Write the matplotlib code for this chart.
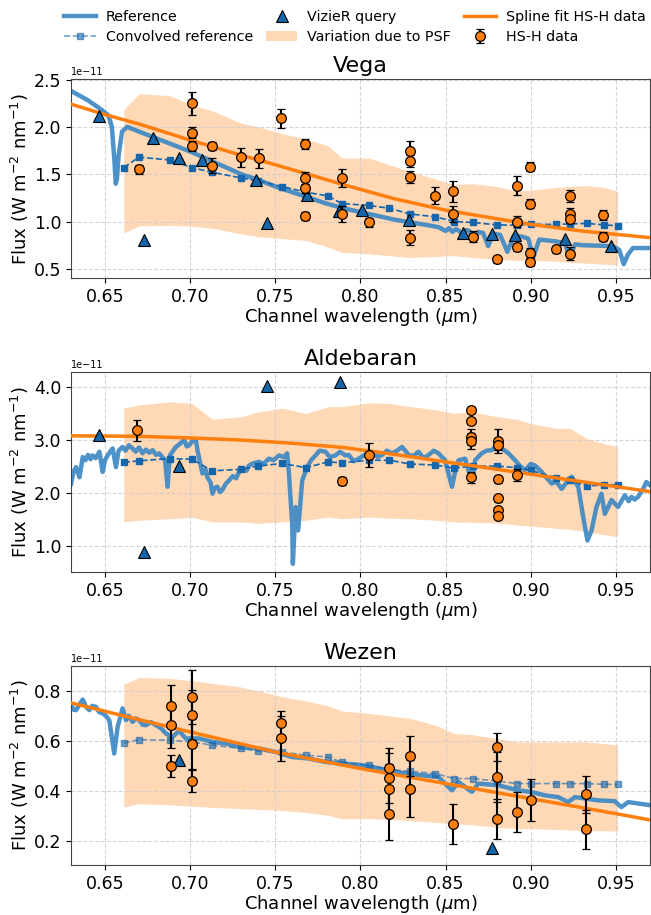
import numpy as np
import matplotlib
matplotlib.use("Agg")
import matplotlib.pyplot as plt
from matplotlib.ticker import MultipleLocator, FormatStrFormatter, ScalarFormatter

# all fluxes below are in units of 1e-11 W m^-2 nm^-1
scale = 1e-11

# channel wavelengths (convolved reference / PSF band)
chan_wl = [0.661, 0.670, 0.688, 0.701, 0.713, 0.730, 0.740, 0.754, 0.768, 0.781,
           0.789, 0.805, 0.817, 0.829, 0.844, 0.855, 0.866, 0.880, 0.892, 0.900,
           0.915, 0.923, 0.933, 0.943, 0.951]

# ---------------- Vega ----------------
vega_ref_pts = [
    (0.630, 2.38), (0.640, 2.28), (0.648, 2.18), (0.652, 2.12), (0.654, 2.00),
    (0.6555, 1.65), (0.6563, 1.40), (0.657, 1.45), (0.658, 1.70), (0.660, 1.95),
    (0.663, 2.00), (0.670, 1.95), (0.680, 1.88), (0.690, 1.81), (0.700, 1.74),
    (0.710, 1.66), (0.720, 1.58), (0.730, 1.50), (0.740, 1.44), (0.750, 1.37),
    (0.760, 1.31), (0.770, 1.25), (0.780, 1.19), (0.790, 1.14), (0.800, 1.10),
    (0.810, 1.06), (0.820, 1.02), (0.830, 0.99), (0.840, 0.96), (0.846, 0.94),
    (0.850, 0.90), (0.852, 0.93), (0.854, 0.89), (0.856, 0.92), (0.858, 0.90),
    (0.860, 0.86), (0.862, 0.91), (0.864, 0.90), (0.8665, 0.79), (0.869, 0.89),
    (0.872, 0.88), (0.875, 0.74), (0.878, 0.87), (0.882, 0.86), (0.8863, 0.68),
    (0.890, 0.85), (0.895, 0.84), (0.8985, 0.82), (0.9015, 0.62), (0.905, 0.81),
    (0.910, 0.80), (0.915, 0.79), (0.920, 0.77), (0.9229, 0.62), (0.926, 0.76),
    (0.930, 0.75), (0.940, 0.745), (0.948, 0.74), (0.952, 0.70), (0.9546, 0.55),
    (0.957, 0.65), (0.960, 0.72), (0.970, 0.72)]
vega_conv = [1.57, 1.68, 1.65, 1.57, 1.52, 1.46, 1.43, 1.37, 1.31, 1.27,
             1.19, 1.17, 1.14, 1.08, 1.05, 1.00, 0.99, 0.965, 0.96, 0.97,
             0.97, 0.975, 0.98, 0.965, 0.955]
vega_psf_hi = [2.18, 2.35, 2.33, 2.23, 2.17, 2.04, 2.00, 1.93, 1.87, 1.80,
               1.67, 1.67, 1.60, 1.53, 1.45, 1.39, 1.40, 1.37, 1.32, 1.33,
               1.36, 1.37, 1.38, 1.36, 1.32]
vega_psf_lo = [0.88, 0.955, 0.96, 0.95, 0.93, 0.87, 0.84, 0.82, 0.80, 0.73,
               0.674, 0.66, 0.64, 0.62, 0.63, 0.64, 0.62, 0.60, 0.59, 0.59,
               0.58, 0.57, 0.56, 0.55, 0.54]
vega_fit_wl = [0.63, 0.65, 0.67, 0.70, 0.73, 0.75, 0.79, 0.82, 0.85, 0.88, 0.90, 0.93, 0.97]
vega_fit = [2.24, 2.13, 2.03, 1.86, 1.70, 1.60, 1.39, 1.24, 1.12, 1.03, 0.97, 0.90, 0.83]
vega_viz_wl = [0.6467, 0.673, 0.6779, 0.6935, 0.7072, 0.7384, 0.7453, 0.7687, 0.7873,
               0.8009, 0.8283, 0.8605, 0.8771, 0.8908, 0.9201, 0.947]
vega_viz = [2.11, 0.80, 1.88, 1.67, 1.65, 1.44, 0.98, 1.28, 1.11,
            1.12, 1.015, 0.88, 0.865, 0.86, 0.82, 0.74]
vega_hsh_wl = [0.6697, 0.7013, 0.7013, 0.7013, 0.7127, 0.7127, 0.7297, 0.7404, 0.7535,
               0.7677, 0.7677, 0.7677, 0.7677, 0.7892, 0.7892, 0.8052,
               0.8289, 0.8289, 0.8289, 0.8289, 0.8435, 0.8546, 0.8546, 0.8663, 0.8804,
               0.8921, 0.8921, 0.8921, 0.8995, 0.8995, 0.8995, 0.8995, 0.9151,
               0.923, 0.923, 0.923, 0.923, 0.9425, 0.9425]
vega_hsh = [1.55, 2.25, 1.94, 1.80, 1.80, 1.59, 1.68, 1.67, 2.09,
            1.82, 1.46, 1.35, 1.06, 1.46, 1.08, 0.99,
            1.74, 1.64, 1.47, 0.83, 1.27, 1.32, 1.08, 0.84, 0.60,
            1.38, 1.00, 0.73, 1.58, 1.19, 0.67, 0.57, 0.705,
            1.27, 1.08, 1.03, 0.66, 1.07, 0.84]
vega_hsh_err = [0.05, 0.12, 0.06, 0.05, 0.045, 0.08, 0.10, 0.10, 0.10,
                0.05, 0.06, 0.05, 0.04, 0.10, 0.08, 0.05,
                0.11, 0.06, 0.06, 0.08, 0.09, 0.11, 0.08, 0.06, 0.04,
                0.10, 0.06, 0.04, 0.05, 0.05, 0.05, 0.04, 0.04,
                0.06, 0.06, 0.05, 0.07, 0.05, 0.05]

# ---------------- Aldebaran ----------------
ald_ref_pts = [
    (0.6301, 2.18), (0.6315, 2.40), (0.633, 2.49), (0.635, 2.30), (0.6369, 2.68),
    (0.6385, 2.62), (0.640, 2.72), (0.6415, 2.64), (0.6427, 2.71), (0.6445, 2.66),
    (0.6467, 2.78), (0.6486, 2.40), (0.650, 2.62), (0.6515, 2.71), (0.653, 2.78),
    (0.6545, 2.84), (0.6564, 2.49), (0.658, 2.80), (0.6603, 2.87), (0.662, 2.80),
    (0.664, 2.90), (0.6662, 2.84), (0.668, 2.78), (0.670, 2.86), (0.672, 2.75),
    (0.674, 2.82), (0.676, 2.76), (0.6779, 2.81), (0.680, 2.72), (0.6818, 2.75),
    (0.6853, 2.62), (0.6867, 2.12), (0.6881, 2.71), (0.690, 2.80), (0.6916, 2.87),
    (0.694, 2.93), (0.6965, 3.00), (0.698, 2.88), (0.6994, 2.90), (0.701, 2.97),
    (0.7033, 3.00), (0.7043, 2.81), (0.7072, 2.37), (0.709, 2.45), (0.7101, 2.30),
    (0.712, 2.20), (0.7131, 1.99), (0.7145, 2.10), (0.716, 2.12), (0.7175, 2.02),
    (0.7189, 2.06), (0.721, 2.18), (0.7228, 2.24), (0.725, 2.32), (0.727, 2.28),
    (0.7287, 2.40), (0.731, 2.46), (0.733, 2.42), (0.7345, 2.52), (0.737, 2.56),
    (0.7404, 2.59), (0.743, 2.55), (0.7462, 2.65), (0.749, 2.62), (0.7521, 2.71),
    (0.755, 2.68), (0.757, 2.75), (0.758, 2.37), (0.7599, 1.43), (0.7603, 0.67),
    (0.7619, 1.74), (0.7634, 1.30), (0.7658, 2.24), (0.7687, 2.49), (0.771, 2.62),
    (0.7736, 2.71), (0.776, 2.80), (0.7795, 2.78), (0.782, 2.68), (0.7853, 2.71),
    (0.788, 2.78), (0.7912, 2.71), (0.7931, 2.72), (0.796, 2.60), (0.799, 2.65),
    (0.8025, 2.72), (0.8068, 2.78), (0.810, 2.68), (0.8127, 2.72), (0.8155, 2.80),
    (0.8185, 2.75), (0.8215, 2.80), (0.8244, 2.87), (0.8283, 2.72), (0.831, 2.70),
    (0.8341, 2.78), (0.837, 2.66), (0.840, 2.72), (0.843, 2.80), (0.8458, 2.75),
    (0.8497, 2.62), (0.8517, 2.37), (0.8537, 2.12), (0.8556, 2.40), (0.8576, 2.62),
    (0.8615, 2.65), (0.8654, 2.21), (0.8673, 2.62), (0.8712, 2.75), (0.874, 2.80),
    (0.8771, 2.81), (0.880, 2.90), (0.883, 2.84), (0.8869, 2.75), (0.8908, 2.62),
    (0.8935, 2.52), (0.8966, 2.43), (0.900, 2.55), (0.9025, 2.52), (0.9064, 2.40),
    (0.909, 2.30), (0.9123, 2.18), (0.915, 2.22), (0.9181, 2.08), (0.921, 2.20),
    (0.924, 2.31), (0.9279, 2.12), (0.9308, 1.55), (0.9333, 1.11), (0.9357, 1.30),
    (0.9386, 1.74), (0.9415, 1.99), (0.9435, 1.61), (0.9474, 1.87), (0.9495, 1.80),
    (0.9513, 1.74), (0.9552, 1.96), (0.9575, 1.85), (0.9591, 1.93), (0.961, 1.88),
    (0.963, 1.93), (0.966, 2.08), (0.9679, 2.21), (0.970, 2.15)]
ald_conv = [2.58, 2.61, 2.65, 2.64, 2.42, 2.45, 2.51, 2.56, 2.48, 2.59,
            2.57, 2.62, 2.62, 2.55, 2.53, 2.47, 2.51, 2.51, 2.48, 2.43,
            2.29, 2.24, 2.13, 2.16, 2.16]
ald_psf_hi = [3.60, 3.66, 3.72, 3.69, 3.39, 3.44, 3.53, 3.60, 3.50, 3.63,
              3.63, 3.70, 3.69, 3.63, 3.57, 3.50, 3.53, 3.44, 3.39, 3.31,
              3.22, 3.22, 3.03, 2.93, 2.88]
ald_psf_lo = [1.46, 1.49, 1.52, 1.55, 1.46, 1.46, 1.43, 1.46, 1.49, 1.55,
              1.52, 1.55, 1.53, 1.52, 1.49, 1.46, 1.45, 1.44, 1.40, 1.38,
              1.34, 1.32, 1.27, 1.22, 1.18]
ald_fit_wl = [0.63, 0.67, 0.70, 0.73, 0.76, 0.79, 0.82, 0.85, 0.88, 0.91, 0.94, 0.97]
ald_fit = [3.08, 3.07, 3.04, 3.00, 2.94, 2.86, 2.73, 2.59, 2.45, 2.31, 2.17, 2.03]
ald_viz_wl = [0.6467, 0.6727, 0.6935, 0.7453, 0.7878]
ald_viz = [3.09, 0.89, 2.51, 4.02, 4.10]
ald_hsh_wl = [0.6688, 0.7892, 0.8052, 0.865, 0.865, 0.865, 0.865, 0.865,
              0.881, 0.881, 0.881, 0.881, 0.881, 0.881, 0.892]
ald_hsh = [3.18, 2.23, 2.72, 3.57, 3.36, 3.06, 2.98, 2.30,
           2.98, 2.91, 2.26, 1.90, 1.68, 1.57, 2.34]
ald_hsh_err = [0.20, 0.07, 0.22, 0.06, 0.06, 0.15, 0.15, 0.10,
               0.22, 0.10, 0.06, 0.06, 0.05, 0.05, 0.12]

# ---------------- Wezen ----------------
wez_ref_pts = [
    (0.6301, 0.743), (0.6315, 0.725), (0.633, 0.723), (0.635, 0.745), (0.6369, 0.765),
    (0.639, 0.735), (0.6408, 0.723), (0.6425, 0.740), (0.6447, 0.736), (0.6465, 0.715),
    (0.6486, 0.710), (0.6505, 0.700), (0.6525, 0.683), (0.6554, 0.550), (0.6574, 0.656),
    (0.6603, 0.730), (0.6623, 0.683), (0.664, 0.700), (0.6662, 0.676), (0.668, 0.690),
    (0.6701, 0.683), (0.672, 0.665), (0.674, 0.663), (0.677, 0.675), (0.6799, 0.663),
    (0.683, 0.650), (0.6857, 0.630), (0.6896, 0.616), (0.6935, 0.640), (0.6974, 0.610),
    (0.7053, 0.610), (0.7131, 0.596), (0.7209, 0.590), (0.7287, 0.576), (0.7404, 0.570),
    (0.7502, 0.556), (0.7599, 0.536), (0.7697, 0.530), (0.7795, 0.516), (0.7892, 0.510),
    (0.799, 0.505), (0.8068, 0.496), (0.8263, 0.470), (0.8458, 0.456), (0.8537, 0.403),
    (0.8576, 0.436), (0.8654, 0.397), (0.8693, 0.430), (0.881, 0.423), (0.8927, 0.403),
    (0.9005, 0.396), (0.9083, 0.383), (0.9161, 0.376), (0.922, 0.356), (0.9259, 0.376),
    (0.9396, 0.363), (0.9493, 0.360), (0.9532, 0.336), (0.9572, 0.356), (0.9689, 0.345)]
wez_conv = [0.592, 0.605, 0.603, 0.596, 0.583, 0.570, 0.560, 0.556, 0.543, 0.536,
            0.515, 0.503, 0.486, 0.479, 0.470, 0.450, 0.450, 0.440, 0.430, 0.430,
            0.430, 0.430, 0.430, 0.427, 0.427]
wez_psf_hi = [0.827, 0.853, 0.850, 0.840, 0.830, 0.815, 0.800, 0.776, 0.760, 0.740,
              0.720, 0.710, 0.700, 0.690, 0.663, 0.630, 0.625, 0.610, 0.596, 0.596,
              0.596, 0.596, 0.596, 0.590, 0.583]
wez_psf_lo = [0.336, 0.350, 0.345, 0.340, 0.335, 0.330, 0.327, 0.323, 0.315, 0.303,
              0.290, 0.290, 0.287, 0.283, 0.275, 0.270, 0.265, 0.256, 0.250, 0.250,
              0.247, 0.245, 0.243, 0.242, 0.240]
wez_fit_wl = [0.63, 0.67, 0.70, 0.75, 0.80, 0.85, 0.90, 0.95, 0.97]
wez_fit = [0.752, 0.685, 0.636, 0.556, 0.490, 0.430, 0.370, 0.310, 0.285]
wez_viz_wl = [0.6935, 0.877]
wez_viz = [0.525, 0.173]
wez_hsh_wl = [0.6887, 0.6887, 0.6887, 0.7013, 0.7013, 0.7013, 0.7013, 0.7535, 0.7535,
              0.8166, 0.8166, 0.8166, 0.8166, 0.8289, 0.8289, 0.8543,
              0.8804, 0.8804, 0.8804, 0.8921, 0.900, 0.9327, 0.9327]
wez_hsh = [0.739, 0.663, 0.500, 0.776, 0.705, 0.587, 0.440, 0.672, 0.611,
           0.492, 0.453, 0.407, 0.310, 0.540, 0.410, 0.270,
           0.576, 0.456, 0.290, 0.316, 0.365, 0.387, 0.247]
wez_hsh_err = [0.084, 0.09, 0.043, 0.107, 0.10, 0.10, 0.044, 0.048, 0.09,
               0.08, 0.10, 0.10, 0.105, 0.08, 0.114, 0.08,
               0.055, 0.10, 0.08, 0.08, 0.083, 0.075, 0.077]

stars = [
    ("Vega", vega_ref_pts, vega_conv, vega_psf_lo, vega_psf_hi, vega_fit_wl, vega_fit,
     vega_viz_wl, vega_viz, vega_hsh_wl, vega_hsh, vega_hsh_err, (0.40, 2.505), 0.5, 1.0),
    ("Aldebaran", ald_ref_pts, ald_conv, ald_psf_lo, ald_psf_hi, ald_fit_wl, ald_fit,
     ald_viz_wl, ald_viz, ald_hsh_wl, ald_hsh, ald_hsh_err, (0.51, 4.28), 1.0, 1.0),
    ("Wezen", wez_ref_pts, wez_conv, wez_psf_lo, wez_psf_hi, wez_fit_wl, wez_fit,
     wez_viz_wl, wez_viz, wez_hsh_wl, wez_hsh, wez_hsh_err, (0.105, 0.90), 0.2, 0.6),
]


class OneDecimal(ScalarFormatter):
    # tick labels like 2.0 / 4.0 with a fixed 1e-11 offset
    def _set_format(self):
        self.format = "%1.1f"


ref_col = "#3a87c4"
conv_col = "#1566ad"
viz_col = "#1565a8"

fig = plt.figure(figsize=(6.51, 9.15), dpi=100)
ax_boxes = [[0.109, 0.6958, 0.8894, 0.2178],
            [0.109, 0.3745, 0.8894, 0.2189],
            [0.109, 0.0546, 0.8894, 0.2178]]

handles = None
for box, star in zip(ax_boxes, stars):
    (name, rpts, conv, plo, phi, fwl, ffl, vwl, vfl, hwl, hfl, herr,
     ylim, ystep, conv_alpha) = star
    rwl = [p[0] for p in rpts]
    rfl = [p[1] for p in rpts]
    ax = fig.add_axes(box)
    s = scale
    band = ax.fill_between(chan_wl, np.array(plo) * s, np.array(phi) * s,
                           color="tab:orange", alpha=0.3, lw=0, zorder=1)
    ref, = ax.plot(rwl, np.array(rfl) * s, color=ref_col, lw=3.2, alpha=0.9, zorder=2)
    cv, = ax.plot(chan_wl, np.array(conv) * s, "--s", color=conv_col, ms=4.5, lw=1.2,
                  alpha=conv_alpha, zorder=3)
    fit, = ax.plot(fwl, np.array(ffl) * s, color="#ff7f0e", lw=2.5, zorder=4)
    viz, = ax.plot(vwl, np.array(vfl) * s, "^", color=viz_col, mec="black", mew=0.8,
                   ms=9, ls="none", zorder=5)
    hsh = ax.errorbar(hwl, np.array(hfl) * s, yerr=np.array(herr) * s, fmt="o",
                      color="#ff7f0e", mec="black", mew=0.9, ms=7, ecolor="black",
                      elinewidth=1.5, capsize=3, capthick=1.3, zorder=6)
    ax.set_xlim(0.63, 0.97)
    ax.set_ylim(ylim[0] * s, ylim[1] * s)
    ax.xaxis.set_major_locator(MultipleLocator(0.05))
    ax.xaxis.set_major_formatter(FormatStrFormatter("%.2f"))
    ax.yaxis.set_major_locator(MultipleLocator(ystep * s))
    yfmt = OneDecimal(useMathText=False)
    yfmt.set_powerlimits((-11, -11))
    ax.yaxis.set_major_formatter(yfmt)
    ax.tick_params(labelsize=12.5)
    ax.yaxis.get_offset_text().set_fontsize(7)
    ax.grid(True, ls="--", color="#cccccc", lw=0.8, alpha=0.8)
    ax.set_title(name, fontsize=16, pad=5)
    ax.set_xlabel(r"Channel wavelength ($\mu$m)", fontsize=13, labelpad=0)
    ax.set_ylabel(r"Flux (W m$^{-2}$ nm$^{-1}$)", fontsize=13, labelpad=2)
    for sp in ax.spines.values():
        sp.set_color("#444444")
    handles = [ref, cv, viz, band, fit, hsh]

labels = ["Reference", "Convolved reference", "VizieR query",
          "Variation due to PSF", "Spline fit HS-H data", "HS-H data"]
fig.legend(handles, labels, loc="upper center", bbox_to_anchor=(0.545, 0.998), ncol=3,
           frameon=False, fontsize=10.3, handlelength=2.2, handletextpad=0.7,
           columnspacing=0.9, labelspacing=0.4, borderaxespad=0.2)

fig.savefig("out.png", dpi=100)
